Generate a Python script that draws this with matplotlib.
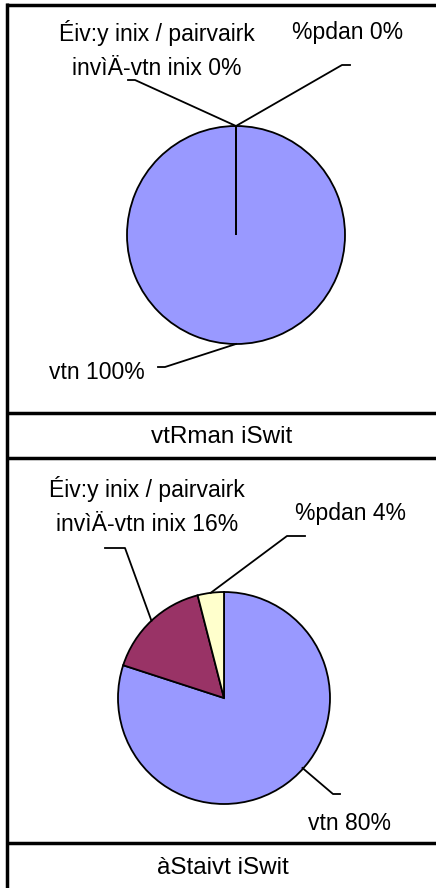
import numpy as np
import matplotlib
matplotlib.use("Agg")
import matplotlib.pyplot as plt

# data for the two pies (clockwise from 12 o'clock)
labels_top = ["vtn 100%", "Éiv:y inix / pairvairk\ninvìÄ-vtn inix 0%", "%pdan 0%"]
values_top = [100, 0, 0]
labels_bottom = ["vtn 80%", "Éiv:y inix / pairvairk\ninvìÄ-vtn inix 16%", "%pdan 4%"]
values_bottom = [80, 16, 4]
captions = ["vtRman iSwit", "àStaivt iSwit"]
colors = ["#9999FF", "#993366", "#FFFFCC"]

W, H = 436, 888
fig = plt.figure(figsize=(W / 100, H / 100), dpi=100)
plt.rcParams["font.family"] = ["Liberation Sans", "DejaVu Sans"]


def make_pie(cx, cy, r, values):
    ax = fig.add_axes([(cx - r) / W, (H - cy - r) / H, 2 * r / W, 2 * r / H])
    wedges, _ = ax.pie(values, colors=colors, startangle=90, counterclock=False,
                       wedgeprops=dict(edgecolor="black", linewidth=1.3))
    ax.set_xlim(-1, 1)
    ax.set_ylim(-1, 1)
    return ax, wedges


ax1, w1 = make_pie(236, 235, 109, values_top)
ax2, w2 = make_pie(224, 698, 106, values_bottom)

# overlay in pixel coords for frame, labels and leader lines
ov = fig.add_axes([0, 0, 1, 1], zorder=5)
ov.set_xlim(0, W)
ov.set_ylim(H, 0)
ov.axis("off")
ov.patch.set_alpha(0)

lw = 2.5
ov.plot([7, 7], [3, H], color="black", lw=lw, solid_capstyle="butt")
for y in [5, 413, 458, 843]:
    ov.plot([6, W], [y, y], color="black", lw=lw, solid_capstyle="butt")

ov.text(222, 437, captions[0], ha="center", va="center", fontsize=17.5)
ov.text(223, 868, captions[1], ha="center", va="center", fontsize=17.5)


def to_px(ax, x, y):
    dx, dy = ax.transData.transform((x, y))
    return dx, H - dy


def wedge_mid(w, frac=1.0):
    a = np.deg2rad((w.theta1 + w.theta2) / 2)
    return frac * np.cos(a), frac * np.sin(a)


# label position, elbow (start, end) of the short horizontal segment
layout_top = [
    ((97, 372), (158, 367), (165, 367)),
    ((157, 50), (128, 80), (135, 80)),
    ((348, 33), (350, 65), (342, 65)),
]
layout_bottom = [
    ((349, 823), (340, 794), (333, 794)),
    ((147, 506), (105, 548), (125, 548)),
    ((350, 513), (305, 536), (287, 536)),
]
anchor_override = {("b", 0): (0.74, -0.66)}

for key, ax, wedges, labs, lay in [("t", ax1, w1, labels_top, layout_top),
                                   ("b", ax2, w2, labels_bottom, layout_bottom)]:
    for i, (w, lab, (tpos, e0, e1)) in enumerate(zip(wedges, labs, lay)):
        if (key, i) in anchor_override:
            mx, my = anchor_override[(key, i)]
        else:
            mx, my = wedge_mid(w)
        px, py = to_px(ax, mx, my)
        ov.plot([e0[0], e1[0], px], [e0[1], e1[1], py], color="black", lw=1.3)
        ov.text(tpos[0], tpos[1], lab, ha="center", va="center", fontsize=16.5,
                linespacing=1.6)

fig.savefig("out.png", dpi=100)
